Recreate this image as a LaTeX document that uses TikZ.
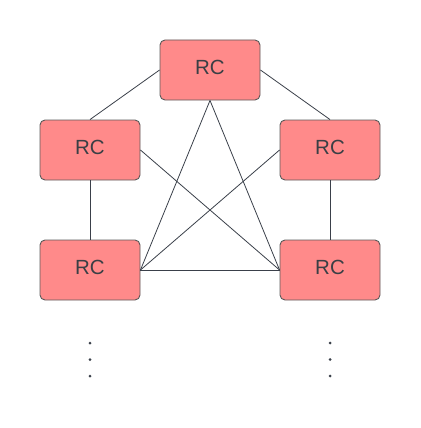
\documentclass[tikz,border=0pt]{standalone}
\usepackage{fontspec}
\setmainfont{Liberation Sans}
\definecolor{boxfill}{HTML}{FF8A8A}
\definecolor{boxdraw}{HTML}{5A5A5A}
\definecolor{txt}{HTML}{3A3F45}
\definecolor{edge}{HTML}{3A404A}
\begin{document}
\begin{tikzpicture}[x=1pt,y=-1pt,
  rc/.style={draw=boxdraw,fill=boxfill,rounded corners=5pt,minimum width=100pt,minimum height=60pt,inner sep=0pt,line width=0.9pt,text=txt,text depth=6pt,font=\fontsize{20.5}{24}\selectfont},
  link/.style={draw=edge,line width=0.8pt},
  vdot/.style={circle,fill=edge,inner sep=0pt,minimum size=3pt}]
\useasboundingbox (0,0) rectangle (420,428);
\node[rc] (t) at (210,70) {RC};
\node[rc] (l) at (90,150) {RC};
\node[rc] (r) at (330,150) {RC};
\node[rc] (bl) at (90,270) {RC};
\node[rc] (br) at (330,270) {RC};
\draw[link] (t.west) -- (l.north);
\draw[link] (t.east) -- (r.north);
\draw[link] (t.south) -- (bl.east);
\draw[link] (t.south) -- (br.west);
\draw[link] (l.east) -- (br.west);
\draw[link] (r.west) -- (bl.east);
\draw[link] (l.south) -- (bl.north);
\draw[link] (r.south) -- (br.north);
\draw[link] (bl.east) -- (br.west);
\node[vdot] (d1) at (90,343) {};
\node[vdot] (d2) at (90,359.5) {};
\node[vdot] (d3) at (90,376) {};
\node[vdot] (d4) at (330,343) {};
\node[vdot] (d5) at (330,359.5) {};
\node[vdot] (d6) at (330,376) {};
\end{tikzpicture}
\end{document}
